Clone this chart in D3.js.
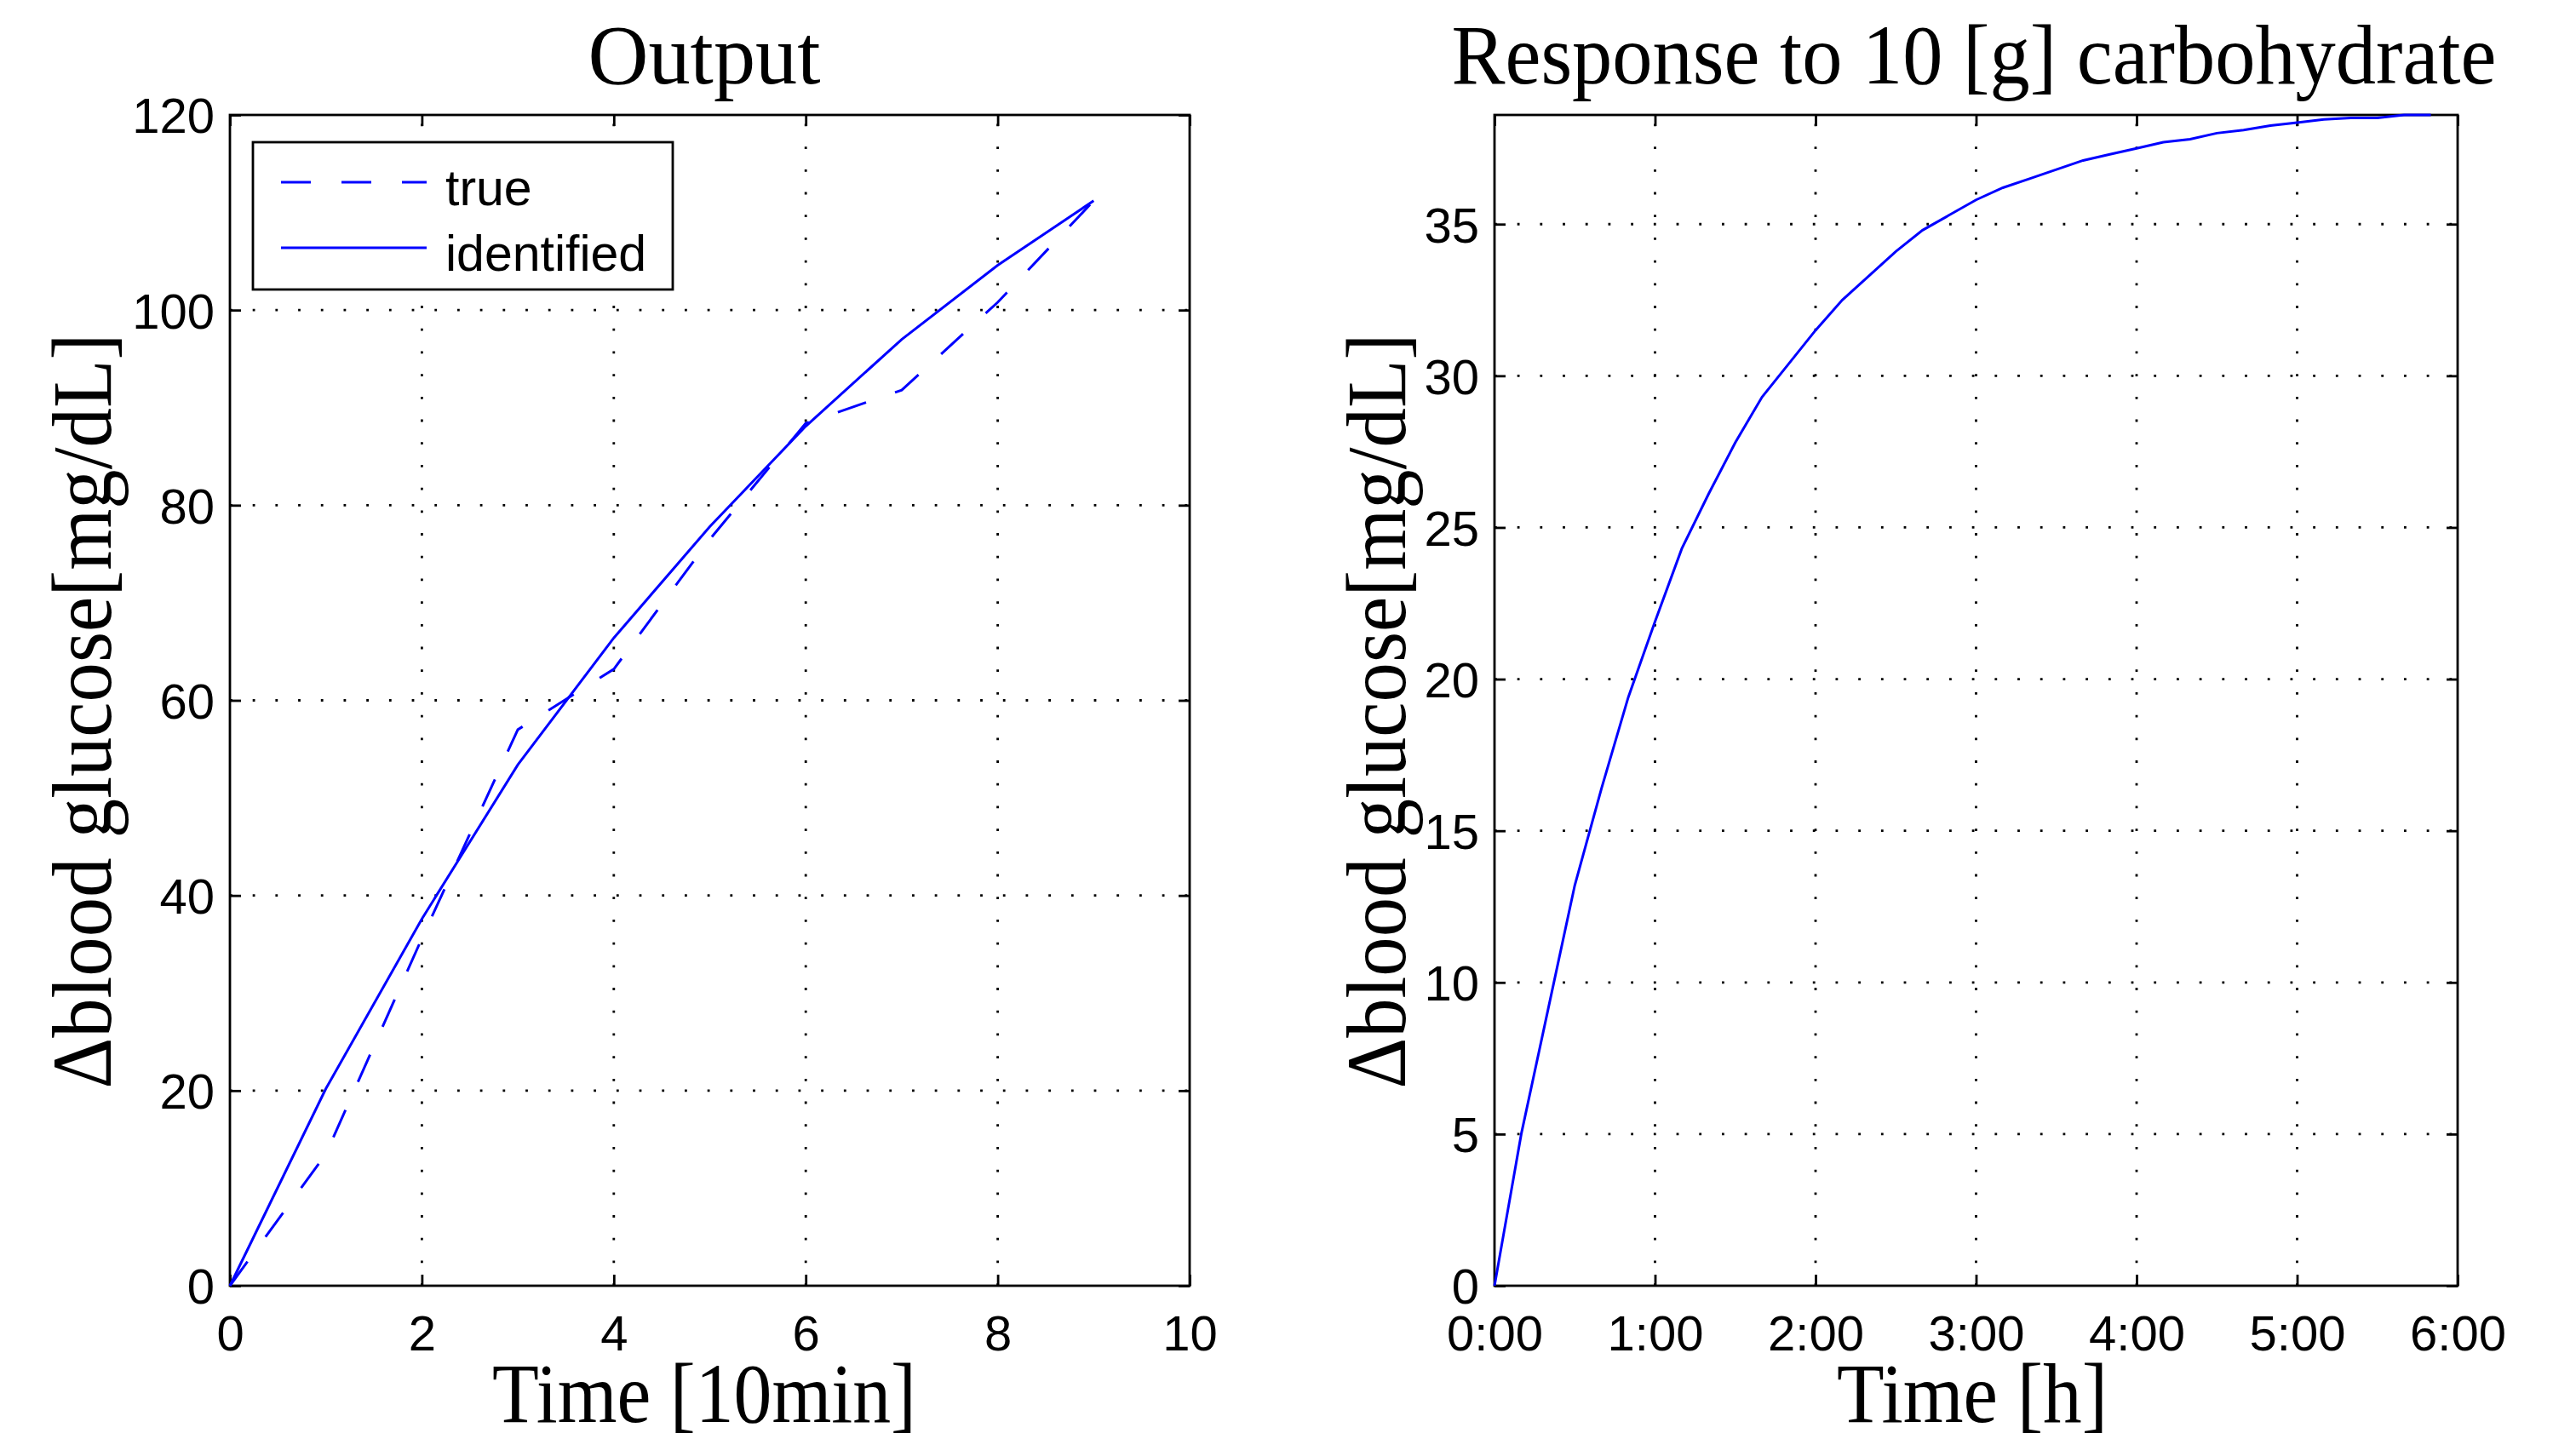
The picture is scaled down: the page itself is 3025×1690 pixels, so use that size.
<!DOCTYPE html>
<html>
<head>
<meta charset="utf-8">
<script src="https://cdn.jsdelivr.net/npm/d3@7"></script>
<style>
    body { margin: 0; background: #fff; }
    .tick text { font-family: "Liberation Sans", Arial, sans-serif; font-size: 58px; fill: #000; }
    .latex { font-family: "Liberation Serif", "Times New Roman", serif; font-size: 100px; fill: #000; }
</style>
</head>
<body>
<svg id="fig"></svg>
<script>
// left panel: output over time steps of 10 min
var timeSteps = [0, 1, 2, 3, 4, 5, 6, 7, 8, 9];
var trueOutput = [0, 13.5, 35.6, 57.0, 63.2, 76.5, 88.4, 91.8, 100.8, 111.2];
var identifiedOutput = [0, 20.2, 37.6, 53.4, 66.4, 77.8, 88.1, 97.0, 104.6, 111.2];
var leftXTicks = [0, 2, 4, 6, 8, 10];
var leftYTicks = [0, 20, 40, 60, 80, 100, 120];

// right panel: response to 10 g carbohydrate, sampled every 10 min
var responseMinutes = [0, 10, 20, 30, 40, 50, 60, 70, 80, 90, 100, 110, 120, 130, 140, 150, 160, 170,
    180, 190, 200, 210, 220, 230, 240, 250, 260, 270, 280, 290, 300, 310, 320, 330, 340, 350];
var responseGlucose = [0, 5.0, 9.1, 13.2, 16.4, 19.4, 21.9, 24.3, 26.1, 27.8, 29.3, 30.4, 31.5, 32.5,
    33.3, 34.1, 34.8, 35.3, 35.8, 36.2, 36.5, 36.8, 37.1, 37.3, 37.5, 37.7, 37.8, 38.0, 38.1, 38.25,
    38.35, 38.45, 38.5, 38.5, 38.6, 38.6];
var rightXTicks = [0, 60, 120, 180, 240, 300, 360];
var rightYTicks = [0, 5, 10, 15, 20, 25, 30, 35];

var legendNames = ["true", "identified"];

var svg = d3.select("#fig").attr("width", 3025).attr("height", 1690);
svg.append("rect").attr("width", 3025).attr("height", 1690).attr("fill", "#fff");

var blue = "#0000ff";
var tickLen = 13;

// draws frame, inward ticks on all sides, dotted grid and tick labels
function drawAxes(x, y, xTicks, yTicks, xFormat) {
    var x0 = x.range()[0], x1 = x.range()[1];
    var y0 = y.range()[0], y1 = y.range()[1];
    var g = svg.append("g");

    // dotted grid, drawn from the bottom / left like matlab does
    g.selectAll(".vgrid")
        .data(xTicks.filter(t => x(t) > x0 + 1 && x(t) < x1 - 1))
        .enter().append("line")
        .attr("x1", d => x(d)).attr("x2", d => x(d))
        .attr("y1", y0).attr("y2", y1)
        .attr("stroke", "#000").attr("stroke-width", 2.8)
        .attr("stroke-dasharray", "2.8 23.9");
    g.selectAll(".hgrid")
        .data(yTicks.filter(t => y(t) < y0 - 1 && y(t) > y1 + 1))
        .enter().append("line")
        .attr("x1", x0).attr("x2", x1)
        .attr("y1", d => y(d)).attr("y2", d => y(d))
        .attr("stroke", "#000").attr("stroke-width", 2.8)
        .attr("stroke-dasharray", "2.8 23.9");

    var bottom = g.append("g").attr("transform", `translate(0,${y0})`)
        .call(d3.axisBottom(x).tickValues(xTicks).tickFormat(xFormat).tickSizeInner(-tickLen).tickSizeOuter(0).tickPadding(35));
    var left = g.append("g").attr("transform", `translate(${x0},0)`)
        .call(d3.axisLeft(y).tickValues(yTicks).tickSizeInner(-tickLen).tickSizeOuter(0).tickPadding(18));
    var top = g.append("g").attr("transform", `translate(0,${y1})`)
        .call(d3.axisTop(x).tickValues(xTicks).tickFormat("").tickSizeInner(-tickLen).tickSizeOuter(0));
    var right = g.append("g").attr("transform", `translate(${x1},0)`)
        .call(d3.axisRight(y).tickValues(yTicks).tickFormat("").tickSizeInner(-tickLen).tickSizeOuter(0));

    [bottom, left, top, right].forEach(a => {
        a.select(".domain").remove();
        a.selectAll(".tick line").attr("stroke", "#000").attr("stroke-width", 2.8);
        a.attr("font-family", null).attr("font-size", null);
    });
    left.selectAll(".tick text").attr("dy", "0.36em");

    g.append("rect")
        .attr("x", x0).attr("y", y1)
        .attr("width", x1 - x0).attr("height", y0 - y1)
        .attr("fill", "none").attr("stroke", "#000").attr("stroke-width", 2.8);
    return g;
}

function addText(txt, cx, cy, len) {
    return svg.append("text").attr("class", "latex")
        .attr("x", cx).attr("y", cy)
        .attr("text-anchor", "middle")
        .attr("textLength", len).attr("lengthAdjust", "spacingAndGlyphs")
        .text(txt);
}

function addYLabel(txt, bx, cy, len) {
    return svg.append("text").attr("class", "latex")
        .attr("transform", `translate(${bx},${cy}) rotate(-90)`)
        .attr("text-anchor", "middle")
        .attr("textLength", len).attr("lengthAdjust", "spacingAndGlyphs")
        .text(txt);
}

// ---- left panel ----
var xL = d3.scaleLinear().domain([0, 10]).range([270, 1397]);
var yL = d3.scaleLinear().domain([0, 120]).range([1510, 135]);
drawAxes(xL, yL, leftXTicks, leftYTicks, d3.format("d"));

var lineL = d3.line().x((d, i) => xL(timeSteps[i])).y(d => yL(d));
svg.append("path").datum(trueOutput)
    .attr("d", lineL).attr("fill", "none")
    .attr("stroke", blue).attr("stroke-width", 3)
    .attr("stroke-dasharray", "35 36");
svg.append("path").datum(identifiedOutput)
    .attr("d", lineL).attr("fill", "none")
    .attr("stroke", blue).attr("stroke-width", 3);

// legend
var legend = svg.append("g");
legend.append("rect")
    .attr("x", 297).attr("y", 167).attr("width", 493).attr("height", 173)
    .attr("fill", "#fff").attr("stroke", "#000").attr("stroke-width", 2.8);
legendNames.forEach(function (name, i) {
    var ly = 214 + i * 77;
    legend.append("line")
        .attr("x1", 330).attr("x2", 501).attr("y1", ly).attr("y2", ly)
        .attr("stroke", blue).attr("stroke-width", 3)
        .attr("stroke-dasharray", i == 0 ? "35 36" : null);
    legend.append("text")
        .attr("x", 523).attr("y", ly + 27)
        .attr("font-family", "Liberation Sans, Arial, sans-serif")
        .attr("font-size", 59)
        .text(name);
});

addText("Output", 827, 98, 273);
addText("Time [10min]", 827, 1670, 498);
addYLabel("\u0394blood glucose[mg/dL]", 130, 835, 887);

// ---- right panel ----
var xR = d3.scaleLinear().domain([0, 360]).range([1755, 2886]);
var yR = d3.scaleLinear().domain([0, d3.max(responseGlucose)]).range([1510, 135]);
drawAxes(xR, yR, rightXTicks, rightYTicks, d => (d / 60) + ":00");

var lineR = d3.line().x((d, i) => xR(responseMinutes[i])).y(d => yR(d));
svg.append("path").datum(responseGlucose)
    .attr("d", lineR).attr("fill", "none")
    .attr("stroke", blue).attr("stroke-width", 3);

addText("Response to 10 [g] carbohydrate", 2318, 98, 1227);
addText("Time [h]", 2316, 1670, 318);
addYLabel("\u0394blood glucose[mg/dL]", 1650, 835, 887);
</script>
</body>
</html>
